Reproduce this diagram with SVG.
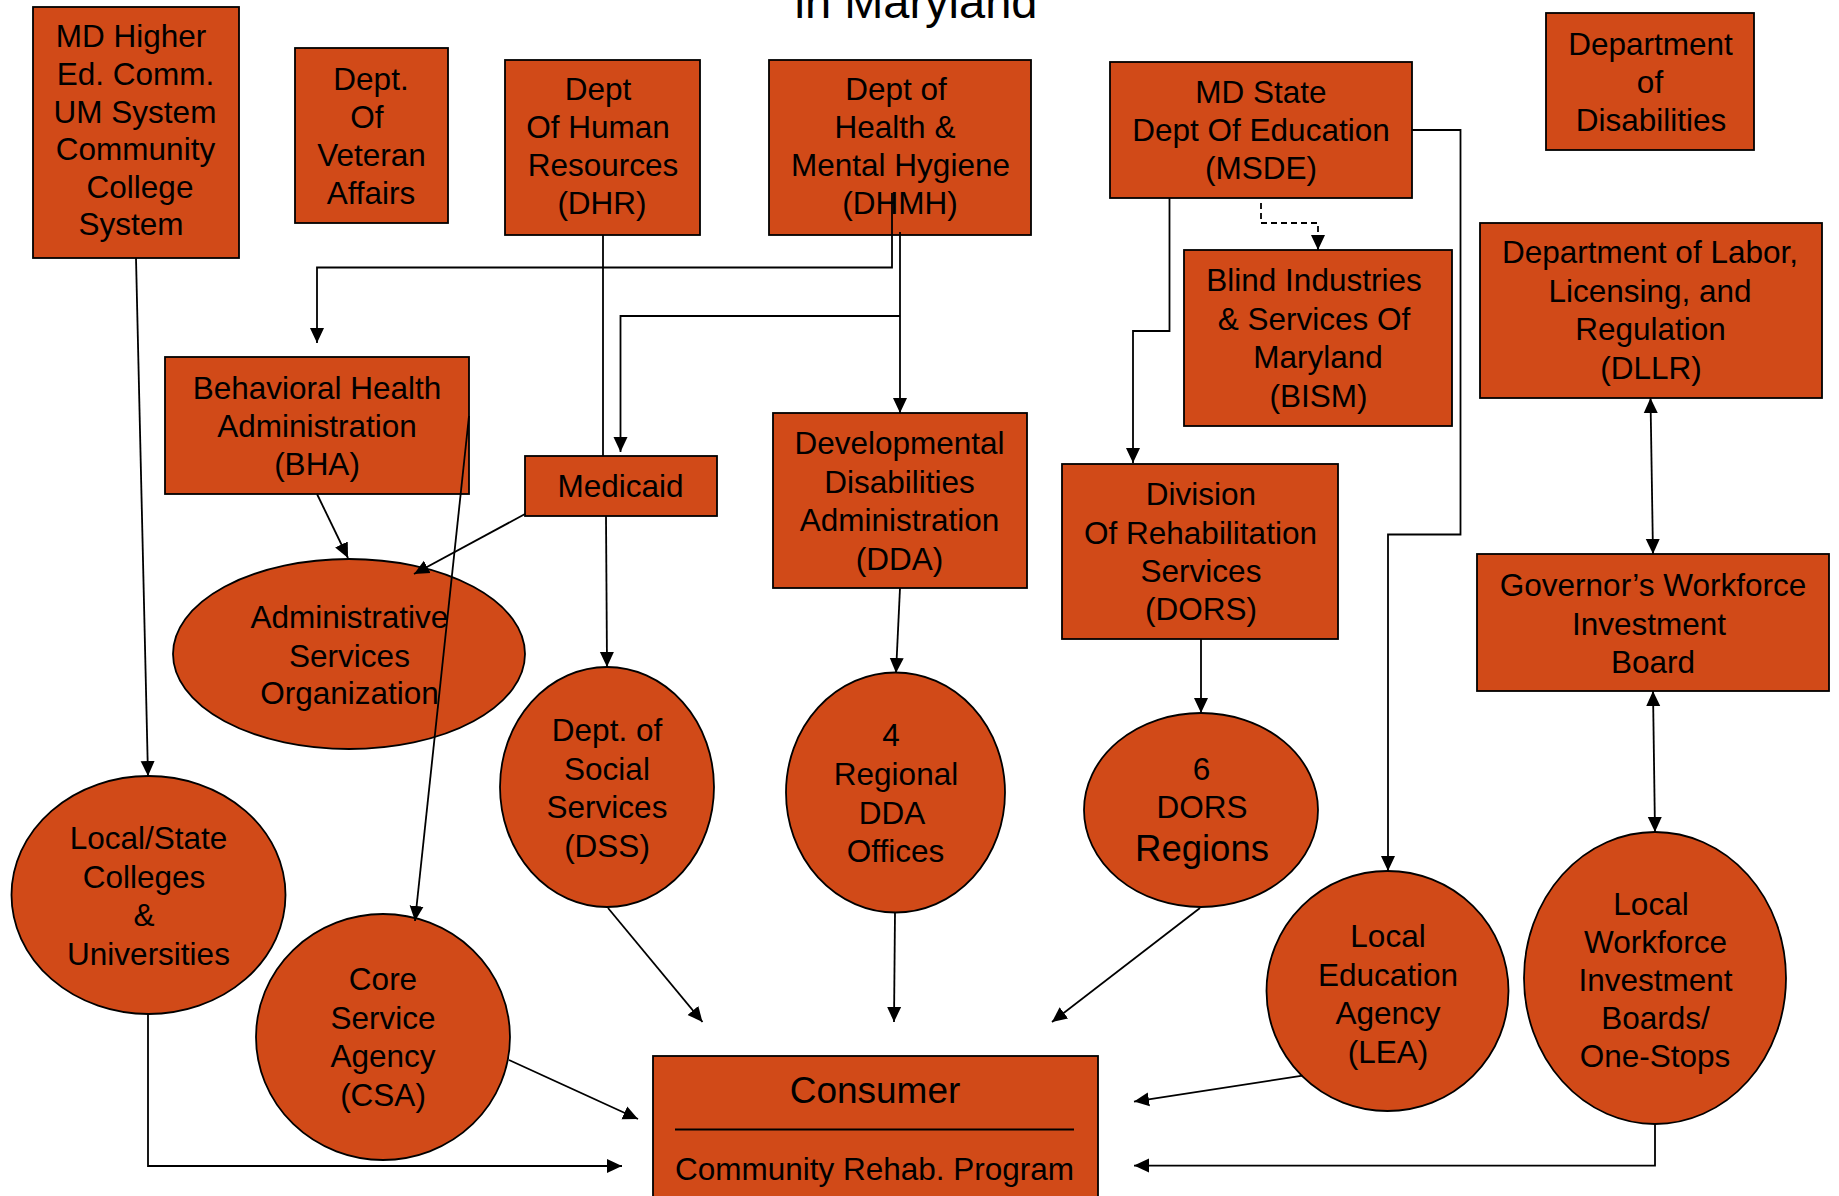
<svg xmlns="http://www.w3.org/2000/svg" width="1839" height="1196" viewBox="0 0 1839 1196">
<style>
.n{fill:#D14A18;stroke:#000;stroke-width:1.8}
.t{font-family:"Liberation Sans",Arial,Helvetica,sans-serif;font-size:31.5px;fill:#000;text-anchor:middle}
.c{fill:none;stroke:#000;stroke-width:1.8}
.d{stroke-dasharray:6 4}
.a{marker-end:url(#ah)}
.b{marker-start:url(#ah);marker-end:url(#ah)}
</style>
<defs>
<marker id="ah" markerUnits="userSpaceOnUse" markerWidth="16" markerHeight="15" refX="15" refY="7" orient="auto-start-reverse" viewBox="0 0 16 14">
<path d="M0,0 L15,7 L0,14 Z" fill="#000"/>
</marker>
</defs>
<rect width="1839" height="1196" fill="#fff"/>
<text x="916" y="18" font-family="Liberation Sans,Arial,sans-serif" font-size="47" text-anchor="middle" fill="#000">in Maryland</text>

<g id="md-higher-ed"><rect class="n" x="33" y="7" width="206" height="251"/>
<text class="t"><tspan x="131" y="47">MD Higher</tspan><tspan x="135.5" y="85">Ed. Comm.</tspan><tspan x="135" y="122.5">UM System</tspan><tspan x="135.5" y="160">Community</tspan><tspan x="140" y="197.5">College</tspan><tspan x="131" y="235">System</tspan></text></g>

<g id="veteran-affairs"><rect class="n" x="295" y="48" width="153" height="175"/>
<text class="t"><tspan x="371" y="90">Dept.</tspan><tspan x="367" y="128">Of</tspan><tspan x="371.5" y="166">Veteran</tspan><tspan x="371" y="204">Affairs</tspan></text></g>

<g id="dhr"><rect class="n" x="505" y="60" width="195" height="175"/>
<text class="t"><tspan x="598" y="100">Dept</tspan><tspan x="598" y="138">Of Human</tspan><tspan x="603" y="176">Resources</tspan><tspan x="602" y="214">(DHR)</tspan></text></g>

<g id="dhmh"><rect class="n" x="769" y="60" width="262" height="175"/>
<text class="t"><tspan x="896" y="100">Dept of</tspan><tspan x="895" y="138">Health &amp;</tspan><tspan x="900.5" y="176">Mental Hygiene</tspan><tspan x="900" y="214">(DHMH)</tspan></text></g>

<g id="msde"><rect class="n" x="1110" y="62" width="302" height="136"/>
<text class="t"><tspan x="1261" y="103">MD State</tspan><tspan x="1261" y="141">Dept Of Education</tspan><tspan x="1261" y="179">(MSDE)</tspan></text></g>

<g id="dept-disabilities"><rect class="n" x="1546" y="13" width="208" height="137"/>
<text class="t"><tspan x="1650.5" y="55">Department</tspan><tspan x="1650" y="93">of</tspan><tspan x="1651" y="131">Disabilities</tspan></text></g>

<g id="bism"><rect class="n" x="1184" y="250" width="268" height="176"/>
<text class="t"><tspan x="1314" y="291">Blind Industries</tspan><tspan x="1314" y="329.5">&amp; Services Of</tspan><tspan x="1318" y="368">Maryland</tspan><tspan x="1318.5" y="406.5">(BISM)</tspan></text></g>

<g id="dllr"><rect class="n" x="1480" y="223" width="342" height="175"/>
<text class="t"><tspan x="1650" y="263">Department of Labor,</tspan><tspan x="1650" y="301.5">Licensing, and</tspan><tspan x="1650.5" y="340">Regulation</tspan><tspan x="1651" y="378.5">(DLLR)</tspan></text></g>

<g id="bha"><rect class="n" x="165" y="357" width="304" height="137"/>
<text class="t"><tspan x="317" y="398.5">Behavioral Health</tspan><tspan x="317" y="437">Administration</tspan><tspan x="317" y="475">(BHA)</tspan></text></g>

<g id="medicaid"><rect class="n" x="525" y="456" width="192" height="60"/>
<text class="t" x="620.5" y="497">Medicaid</text></g>

<g id="dda"><rect class="n" x="773" y="413" width="254" height="175"/>
<text class="t"><tspan x="899.5" y="454">Developmental</tspan><tspan x="899.5" y="492.5">Disabilities</tspan><tspan x="899.5" y="531">Administration</tspan><tspan x="899.5" y="569.5">(DDA)</tspan></text></g>

<g id="dors"><rect class="n" x="1062" y="464" width="276" height="175"/>
<text class="t"><tspan x="1201" y="505">Division</tspan><tspan x="1200.5" y="543.5">Of Rehabilitation</tspan><tspan x="1201" y="582">Services</tspan><tspan x="1201" y="620">(DORS)</tspan></text></g>

<g id="gwib"><rect class="n" x="1477" y="554" width="352" height="137"/>
<text class="t"><tspan x="1653" y="596">Governor’s Workforce</tspan><tspan x="1649" y="635">Investment</tspan><tspan x="1653" y="673">Board</tspan></text></g>

<g id="aso"><ellipse class="n" cx="349" cy="654" rx="176" ry="95"/>
<text class="t"><tspan x="349.5" y="628">Administrative</tspan><tspan x="349.5" y="666.5">Services</tspan><tspan x="349.5" y="704">Organization</tspan></text></g>

<g id="dss"><ellipse class="n" cx="607" cy="787" rx="107" ry="120"/>
<text class="t"><tspan x="607" y="741">Dept. of</tspan><tspan x="607" y="779.5">Social</tspan><tspan x="607" y="818">Services</tspan><tspan x="607" y="856.5">(DSS)</tspan></text></g>

<g id="regional-dda"><ellipse class="n" cx="895.5" cy="792.5" rx="109.5" ry="120"/>
<text class="t"><tspan x="891" y="746">4</tspan><tspan x="896" y="785">Regional</tspan><tspan x="892" y="823.5">DDA</tspan><tspan x="895.5" y="862">Offices</tspan></text></g>

<g id="dors-regions"><ellipse class="n" cx="1201" cy="810" rx="117" ry="97"/>
<text class="t"><tspan x="1201.5" y="780">6</tspan><tspan x="1202" y="818">DORS</tspan><tspan x="1202" y="861" style="font-size:36.5px">Regions</tspan></text></g>

<g id="colleges"><ellipse class="n" cx="148.5" cy="895" rx="137" ry="119"/>
<text class="t"><tspan x="148.5" y="849">Local/State</tspan><tspan x="144" y="887.5">Colleges</tspan><tspan x="144" y="926">&amp;</tspan><tspan x="148.5" y="964.5">Universities</tspan></text></g>

<g id="csa"><ellipse class="n" cx="383" cy="1037" rx="127" ry="123"/>
<text class="t"><tspan x="383" y="990">Core</tspan><tspan x="383" y="1029">Service</tspan><tspan x="383" y="1067">Agency</tspan><tspan x="383" y="1106">(CSA)</tspan></text></g>

<g id="lea"><ellipse class="n" cx="1387.5" cy="991" rx="121" ry="120"/>
<text class="t"><tspan x="1388" y="947">Local</tspan><tspan x="1388" y="986">Education</tspan><tspan x="1388" y="1024">Agency</tspan><tspan x="1388" y="1062.5">(LEA)</tspan></text></g>

<g id="local-wib"><ellipse class="n" cx="1655" cy="978" rx="131" ry="146"/>
<text class="t"><tspan x="1651" y="914.5">Local</tspan><tspan x="1655.5" y="952.5">Workforce</tspan><tspan x="1655.5" y="991">Investment</tspan><tspan x="1655.5" y="1029">Boards/</tspan><tspan x="1655" y="1067">One-Stops</tspan></text></g>

<g id="consumer"><rect class="n" x="653" y="1056" width="445" height="160"/>
<line x1="675" y1="1129.5" x2="1074" y2="1129.5" stroke="#000" stroke-width="2"/>
<text class="t" x="875" y="1103" style="font-size:37px">Consumer</text>
<text class="t" x="874.5" y="1180">Community Rehab. Program</text></g>

<g id="connectors">
<path class="c a" d="M136,258 L148,776"/>
<path class="c" d="M603,235 L603,456"/>
<path class="c a" d="M606,516 L607,667"/>
<path class="c a" d="M892,193 L892,267.5 L317,267.5 L317,343"/>
<path class="c a" d="M900,232 L900,413"/>
<path class="c a" d="M900,316 L620.5,316 L620.5,452"/>
<path class="c a" d="M317,494 L348,558"/>
<path class="c a" d="M525,514 L414,574"/>
<path class="c a" d="M469,416 L415,921"/>
<path class="c a" d="M900,588 L896,673"/>
<path class="c a" d="M1169.5,198 L1169.5,331 L1133,331 L1133,463"/>
<path class="c d a" d="M1261,203 L1261,223 L1318,223 L1318,250"/>
<path class="c a" d="M1412,130 L1460.5,130 L1460.5,534.5 L1388,534.5 L1388,871"/>
<path class="c a" d="M1201,639 L1201,713"/>
<path class="c b" d="M1650.5,398 L1653,554"/>
<path class="c b" d="M1653,691 L1655,832"/>
<path class="c a" d="M148,1014 L148,1166 L622,1166"/>
<path class="c a" d="M509,1060 L638,1119"/>
<path class="c a" d="M608,908 L702.5,1022"/>
<path class="c a" d="M895,912 L894,1022"/>
<path class="c a" d="M1200,908 L1052,1022"/>
<path class="c a" d="M1302.6,1075.6 L1134,1101.6"/>
<path class="c a" d="M1655,1124 L1655,1165.6 L1134,1165.6"/>
</g>
</svg>
